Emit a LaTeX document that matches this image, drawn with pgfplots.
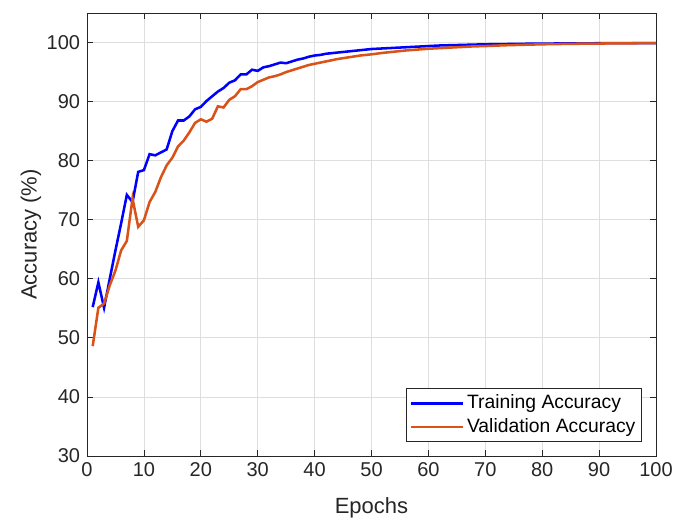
\documentclass[border=0pt]{standalone}
\usepackage{fontspec}
\setmainfont{Liberation Sans}
\usepackage{pgfplots}
\pgfplotsset{compat=1.18}

\definecolor{mlblue}{rgb}{0,0,1}
\definecolor{mlorange}{rgb}{0.85,0.325,0.098}
\definecolor{axgray}{rgb}{0.15,0.15,0.15}
\definecolor{gridgray}{rgb}{0.87,0.87,0.87}

\pgfplotstableread{
ep train
1 55.2
2 59.4
3 55.1
4 60.0
5 64.8
6 69.4
7 74.2
8 73.0
9 78.1
10 78.4
11 81.1
12 80.9
13 81.4
14 81.9
15 85.0
16 86.8
17 86.8
18 87.5
19 88.7
20 89.1
21 90.1
22 90.9
23 91.7
24 92.3
25 93.2
26 93.6
27 94.6
28 94.6
29 95.4
30 95.2
31 95.8
32 96.0
33 96.3
34 96.6
35 96.5
36 96.8
37 97.1
38 97.3
39 97.6
40 97.8
41 97.9
42 98.1
43 98.2
44 98.3
45 98.4
46 98.5
47 98.6
48 98.7
49 98.8
50 98.9
51 98.95
52 99.0
53 99.05
54 99.1
55 99.15
56 99.2
57 99.25
58 99.3
59 99.35
60 99.4
62 99.5
64 99.55
66 99.6
68 99.65
70 99.7
72 99.72
74 99.75
76 99.78
78 99.8
80 99.82
85 99.85
90 99.88
95 99.9
100 99.9
}\traindata

\pgfplotstableread{
ep val
1 48.6
2 55.1
3 55.8
4 58.9
5 61.4
6 64.8
7 66.4
8 73.6
9 68.8
10 69.9
11 73.0
12 74.7
13 77.2
14 79.2
15 80.5
16 82.4
17 83.4
18 84.8
19 86.4
20 87.0
21 86.6
22 87.1
23 89.2
24 89.0
25 90.3
26 90.9
27 92.1
28 92.1
29 92.6
30 93.3
31 93.7
32 94.1
33 94.3
34 94.6
35 95.0
36 95.3
37 95.6
38 95.9
39 96.2
40 96.4
41 96.6
42 96.8
43 97.0
44 97.2
45 97.35
46 97.5
47 97.65
48 97.8
49 97.9
50 98.0
52 98.25
54 98.45
56 98.65
58 98.8
60 98.95
62 99.05
64 99.15
66 99.25
68 99.35
70 99.4
72 99.48
74 99.55
76 99.6
78 99.65
80 99.7
85 99.78
90 99.83
95 99.87
100 99.9
}\valdata

\begin{document}
\fontsize{15}{18}\selectfont
\begin{tikzpicture}
\begin{axis}[
    scale only axis,
    width=426.75pt,
    height=332.25pt,
    xmin=0, xmax=100,
    ymin=30, ymax=105,
    xtick={0,10,...,100},
    ytick={30,40,...,100},
    grid=major,
    major grid style={gridgray, line width=0.6pt},
    axis line style={axgray, line width=0.6pt},
    tick style={axgray, line width=0.6pt},
    tick align=inside,
    major tick length=4.5pt,
    ticklabel style={font=\fontsize{15}{18}\selectfont, text=axgray},
    /pgf/number format/assume math mode=true,
    xlabel={Epochs},
    ylabel={Accuracy (\%)},
    label style={font=\fontsize{16.5}{19}\selectfont, text=axgray},
    xlabel style={yshift=-5pt},
    ylabel style={yshift=-6pt},
    legend style={at={(0.975,0.032)}, anchor=south east,
        draw=axgray, line width=0.6pt,
        font=\fontsize{14.5}{17}\selectfont, text=black,
        row sep=1pt, inner sep=2.5pt},
    legend cell align=left,
    legend image code/.code={\draw[#1, line width=1.9pt] (0pt,0pt) -- (39pt,0pt);},
]
\addplot[mlblue, line width=1.9pt] table[x=ep, y=train] {\traindata};
\addplot[mlorange, line width=1.9pt] table[x=ep, y=val] {\valdata};
\legend{Training Accuracy, Validation Accuracy}
\end{axis}
\pgfresetboundingbox
\path ([shift={(-65.25pt,-49.5pt)}]current axis.south west) rectangle ([shift={(12.75pt,9.75pt)}]current axis.north east);
\end{tikzpicture}
\end{document}
